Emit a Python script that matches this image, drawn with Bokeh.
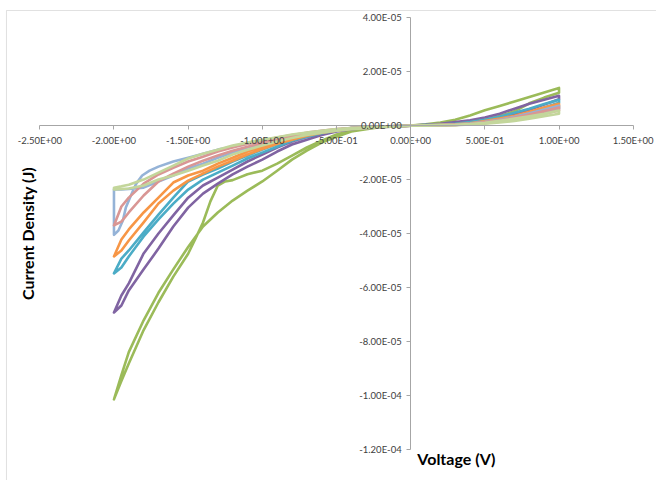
from bokeh.plotting import figure
from bokeh.models import (LinearAxis, FixedTicker, CustomJSTickFormatter, Label,
                          Range1d, BoxAnnotation)
from bokeh.embed import file_html
from bokeh.resources import INLINE

# ---------------- data (current density in units of 1e-5 A) ----------------
UNIT = 1e-5
X_TICKS = [-2.5, -2.0, -1.5, -1.0, -0.5, 0.0, 0.5, 1.0, 1.5]
Y_TICKS = [-1.2e-4, -1.0e-4, -8e-5, -6e-5, -4e-5, -2e-5, 0.0, 2e-5, 4e-5]

V_POS = [0.1, 0.2, 0.3, 0.4, 0.5, 0.6, 0.7, 0.8, 0.9, 1.0]
V_NEG = [-0.2, -0.4, -0.5, -0.6, -0.7, -0.8, -0.9, -1.0, -1.1, -1.2, -1.3,
         -1.4, -1.5, -1.6, -1.7, -1.8, -1.9, -1.95, -2.0]

# green
green_up = [0.05, 0.12, 0.22, 0.38, 0.57, 0.73, 0.90, 1.06, 1.23, 1.40]
green_dn = [0.03, 0.06, 0.08, 0.12, 0.22, 0.36, 0.53, 0.83, 1.04, 1.22]
green_a_v = [-0.2, -0.4, -0.5, -0.6, -0.7, -0.8, -0.9, -1.0, -1.1, -1.2, -1.25,
             -1.3, -1.35, -1.4, -1.45, -1.5, -1.6, -1.7, -1.8, -1.9, -1.95, -2.0]
green_a_j = [-0.04, -0.19, -0.33, -0.56, -0.81, -1.11, -1.41, -1.67, -1.80, -2.02,
             -2.07, -2.22, -2.81, -3.59, -4.18, -4.75, -5.60, -6.55, -7.58, -8.82,
             -9.47, -10.15]
green_b = [-0.05, -0.22, -0.41, -0.63, -0.93, -1.26, -1.67, -2.07, -2.41, -2.78,
           -3.22, -3.74, -4.50, -5.33, -6.20, -7.22, -8.40, -9.25, -10.15]

# purple
purple_up = [0.03, 0.07, 0.13, 0.20, 0.30, 0.44, 0.63, 0.81, 0.96, 1.11]
purple_dn = [0.02, 0.04, 0.06, 0.11, 0.17, 0.26, 0.41, 0.59, 0.78, 0.98]
purple_a = [-0.04, -0.09, -0.17, -0.26, -0.41, -0.59, -0.81, -1.07, -1.33, -1.63,
            -1.93, -2.22, -2.67, -3.33, -4.00, -4.74, -5.85, -6.30, -6.93]
purple_b = [-0.06, -0.13, -0.22, -0.35, -0.52, -0.70, -0.96, -1.26, -1.52, -1.81,
            -2.15, -2.52, -3.04, -3.74, -4.56, -5.33, -6.11, -6.67, -6.93]

# aqua
aqua_up = [0.02, 0.04, 0.07, 0.13, 0.22, 0.33, 0.48, 0.63, 0.80, 0.96]
aqua_dn = [0.01, 0.02, 0.04, 0.07, 0.13, 0.20, 0.31, 0.48, 0.67, 0.85]
aqua_a = [-0.04, -0.09, -0.15, -0.22, -0.33, -0.48, -0.67, -0.89, -1.11, -1.33,
          -1.59, -1.81, -2.07, -2.67, -3.30, -3.96, -4.63, -4.93, -5.48]
aqua_b = [-0.05, -0.11, -0.19, -0.28, -0.41, -0.56, -0.78, -1.00, -1.22, -1.48,
          -1.74, -2.00, -2.37, -2.89, -3.48, -4.11, -4.85, -5.26, -5.48]

# orange
orange_up = [0.01, 0.03, 0.05, 0.09, 0.17, 0.26, 0.37, 0.52, 0.67, 0.81]
orange_dn = [0.01, 0.02, 0.03, 0.06, 0.11, 0.19, 0.28, 0.41, 0.56, 0.70]
orange_a = [-0.04, -0.09, -0.15, -0.22, -0.31, -0.44, -0.59, -0.78, -0.96, -1.19,
            -1.41, -1.67, -1.85, -2.11, -2.67, -3.22, -3.85, -4.22, -4.85]
orange_b = [-0.05, -0.11, -0.19, -0.26, -0.37, -0.52, -0.67, -0.87, -1.07, -1.30,
            -1.52, -1.78, -2.04, -2.41, -2.89, -3.59, -4.26, -4.63, -4.85]

# light blue
lblue_up = [0.01, 0.02, 0.04, 0.08, 0.14, 0.22, 0.33, 0.46, 0.60, 0.74]
lblue_dn = [0.00, 0.01, 0.03, 0.05, 0.10, 0.16, 0.25, 0.37, 0.50, 0.63]
lblue_a = [-0.04, -0.10, -0.15, -0.22, -0.30, -0.41, -0.54, -0.67, -0.81, -1.00,
           -1.19, -1.41, -1.59, -1.85, -2.07, -2.30, -2.35, -2.37, -2.37]
lblue_b_v = [-2.0, -1.97, -1.94, -1.92, -1.88, -1.85, -1.81, -1.76, -1.7, -1.6,
             -1.5, -1.4, -1.3, -1.2, -1.1, -1.0, -0.9, -0.8, -0.7, -0.6, -0.5, -0.4, -0.2]
lblue_b_j = [-4.05, -3.89, -3.52, -3.04, -2.52, -2.15, -1.85, -1.67, -1.52, -1.33,
             -1.19, -1.04, -0.89, -0.78, -0.67, -0.56, -0.46, -0.37, -0.28, -0.20,
             -0.15, -0.09, -0.04]

# pink
pink_up = [0.01, 0.02, 0.04, 0.07, 0.13, 0.20, 0.30, 0.41, 0.54, 0.67]
pink_dn = [0.00, 0.01, 0.03, 0.05, 0.09, 0.15, 0.22, 0.33, 0.44, 0.56]
pink_a = [-0.03, -0.09, -0.13, -0.19, -0.26, -0.35, -0.44, -0.56, -0.67, -0.81,
          -0.96, -1.15, -1.33, -1.56, -1.81, -2.15, -2.67, -3.00, -3.70]
pink_b = [-0.05, -0.11, -0.17, -0.22, -0.31, -0.41, -0.52, -0.65, -0.78, -0.93,
          -1.11, -1.30, -1.52, -1.78, -2.07, -2.59, -3.22, -3.56, -3.70]

# light green
lgreen_up = [0.01, 0.02, 0.03, 0.06, 0.11, 0.18, 0.26, 0.35, 0.44, 0.56]
lgreen_dn = [0.00, 0.01, 0.02, 0.04, 0.07, 0.12, 0.17, 0.26, 0.35, 0.44]
lgreen_a = [-0.03, -0.09, -0.13, -0.19, -0.26, -0.33, -0.43, -0.52, -0.63, -0.74,
            -0.89, -1.04, -1.22, -1.48, -1.74, -2.00, -2.19, -2.25, -2.30]
lgreen_b = [-0.06, -0.13, -0.19, -0.26, -0.35, -0.46, -0.59, -0.74, -0.89, -1.07,
            -1.30, -1.48, -1.67, -1.85, -2.00, -2.22, -2.33, -2.35, -2.37]


def loop(up, dn, a_v, a_j, b_v, b_j):
    """closed CV loop: 0 -> +1 V -> 0 -> branch a to -2 V -> branch b back to 0"""
    v = [0.0] + V_POS + V_POS[::-1] + [0.0] + a_v + b_v + [0.0]
    j = [0.0] + up + dn[::-1] + [0.0] + a_j + b_j + [0.0]
    return v, [x * UNIT for x in j]


series = [
    ("#9BBB59", loop(green_up, green_dn, green_a_v, green_a_j, V_NEG[::-1], green_b[::-1])),
    ("#8064A2", loop(purple_up, purple_dn, V_NEG, purple_a, V_NEG[::-1], purple_b[::-1])),
    ("#4BACC6", loop(aqua_up, aqua_dn, V_NEG, aqua_a, V_NEG[::-1], aqua_b[::-1])),
    ("#F79646", loop(orange_up, orange_dn, V_NEG, orange_a, V_NEG[::-1], orange_b[::-1])),
    ("#95B3D7", loop(lblue_up, lblue_dn, V_NEG, lblue_a, lblue_b_v, lblue_b_j)),
    ("#D99694", loop(pink_up, pink_dn, V_NEG, pink_a, V_NEG[::-1], pink_b[::-1])),
    ("#C3D69B", loop(lgreen_up, lgreen_dn, V_NEG, lgreen_a, V_NEG[::-1], lgreen_b[::-1])),
]

# ---------------- figure ----------------
p = figure(width=656, height=480, output_backend="svg", toolbar_location=None,
           x_axis_type=None, y_axis_type=None,
           x_range=Range1d(-2.7649, 1.6571), y_range=Range1d(-1.3161e-4, 4.6417e-5),
           min_border=0)
p.outline_line_color = None
p.background_fill_color = "white"
p.border_fill_color = "white"

# chart-area border (only its left and top edges fall inside the picture)
p.add_layout(BoxAnnotation(left=-2.7245, right=1.75, top=4.2708e-5, bottom=-1.45e-4,
                           fill_alpha=0, line_color="#9a9a9a", line_width=1))

fmt = CustomJSTickFormatter(code="""
    var s = tick.toExponential(2).toUpperCase();
    var parts = s.split("E");
    var e = parseInt(parts[1]);
    var ae = Math.abs(e);
    return parts[0] + "E" + (e < 0 ? "-" : "+") + (ae < 10 ? "0" : "") + ae;
""")

xaxis = LinearAxis(fixed_location=0, bounds=(-2.5, 1.5),
                   ticker=FixedTicker(ticks=X_TICKS), formatter=fmt)
yaxis = LinearAxis(fixed_location=0, bounds=(-1.2e-4, 4e-5),
                   ticker=FixedTicker(ticks=Y_TICKS), formatter=fmt)
for ax in (xaxis, yaxis):
    ax.axis_line_color = "#a6a6a6"
    ax.axis_line_width = 1
    ax.major_tick_line_color = "#a6a6a6"
    ax.major_tick_in = 0
    ax.major_tick_out = 4
    ax.minor_tick_line_color = None
    ax.major_label_text_font = "Lato"
    ax.major_label_text_font_size = "9.5px"
    ax.major_label_text_color = "#404040"
    ax.major_label_standoff = 5
p.add_layout(xaxis, "below")
p.add_layout(yaxis, "left")

for color, (v, j) in series:
    p.line(v, j, line_color=color, line_width=2.6, line_join="round", line_cap="round")

p.add_layout(Label(x=0.045, y=-1.235e-4, text="Voltage (V)", text_font="Lato",
                   text_font_style="bold", text_font_size="16px", text_color="black",
                   text_baseline="middle", text_align="left"))
p.add_layout(Label(x=-2.5841, y=-4.0e-5, text="Current Density (J)", text_font="Lato",
                   text_font_style="bold", text_font_size="16px", text_color="black",
                   text_baseline="middle", text_align="center", angle=1.5708))

open("out.html", "w").write(file_html(p, INLINE))
